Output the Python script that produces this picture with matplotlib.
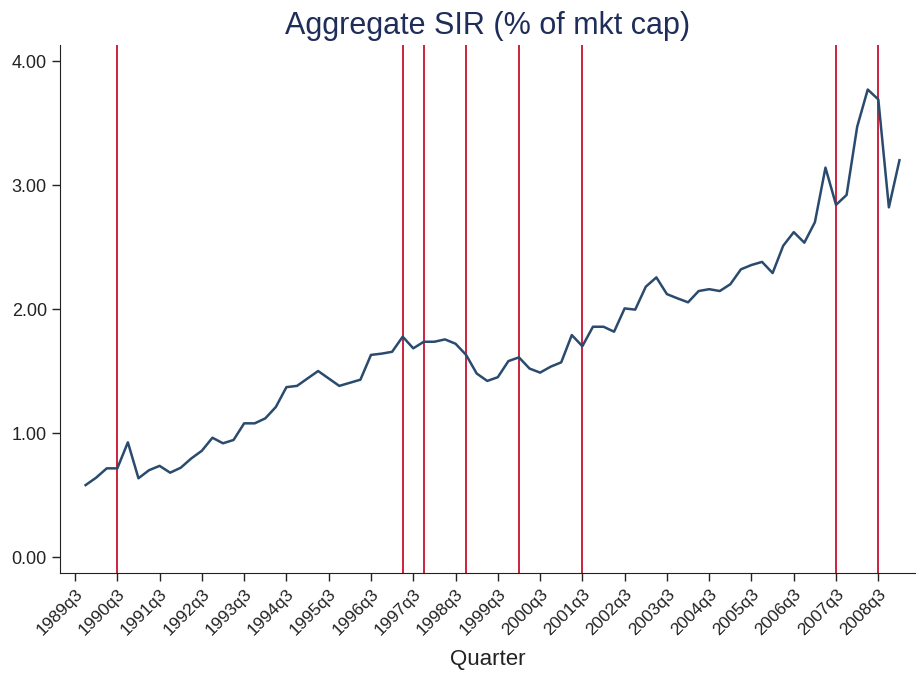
import matplotlib.pyplot as plt
import numpy as np

plt.rcParams['font.family'] = ['Liberation Sans', 'DejaVu Sans']

# Quarterly series, 1989q4 .. 2009q1 (index 0 = 1989q3)
start_q = 1
sir = [0.58, 0.64, 0.715, 0.715, 0.925, 0.635, 0.70, 0.735, 0.68, 0.72,
       0.795, 0.857, 0.962, 0.917, 0.944, 1.078, 1.078, 1.118, 1.21, 1.37,
       1.38, 1.44, 1.50, 1.44, 1.38, 1.405, 1.43, 1.63, 1.64, 1.655,
       1.777, 1.683, 1.736, 1.736, 1.755, 1.72, 1.63, 1.48, 1.42, 1.45,
       1.58, 1.61, 1.52, 1.487, 1.535, 1.57, 1.79, 1.70, 1.857, 1.857,
       1.817, 2.005, 1.995, 2.18, 2.255, 2.12, 2.086, 2.054, 2.145, 2.16,
       2.145, 2.20, 2.32, 2.355, 2.38, 2.29, 2.51, 2.62, 2.535, 2.70,
       3.14, 2.84, 2.92, 3.47, 3.77, 3.69, 2.82, 3.20]

# event quarters (index from 1989q3)
events = [4, 31, 33, 37, 42, 48, 72, 76]

tick_pos = list(range(0, 77, 4))
tick_labels = ['%dq3' % (1989 + i) for i in range(len(tick_pos))]
y_ticks = [0, 1, 2, 3, 4]

q = np.arange(start_q, start_q + len(sir))

fig = plt.figure(figsize=(9.22, 6.75), dpi=100)
ax = fig.add_axes([0.0651, 0.1511, 0.9273, 0.7822])

for e in events:
    ax.axvline(e, color='#c8102e', linewidth=1.3, zorder=1)

ax.plot(q, sir, color='#2a4a6e', linewidth=1.8, zorder=2)

ax.set_xlim(-1.42, 79.47)
ax.set_ylim(-0.129, 4.129)

ax.set_xticks(tick_pos)
ax.set_xticklabels(tick_labels, rotation=45, ha='right', rotation_mode='anchor',
                   fontsize=12.5, color='#222222')
ax.set_yticks(y_ticks)
ax.set_yticklabels(['%.2f' % v for v in y_ticks], fontsize=13, color='#222222')
ax.tick_params(axis='both', direction='out', length=6, width=1, color='#222222')

for s in ['top', 'right']:
    ax.spines[s].set_visible(False)
for s in ['left', 'bottom']:
    ax.spines[s].set_color('#222222')

ax.set_xlabel('Quarter', fontsize=16, color='#222222', labelpad=8)
ax.set_title('Aggregate SIR (% of mkt cap)', fontsize=22, color='#1e2d5a', pad=8)

fig.savefig('out.png', dpi=100, facecolor='white')
